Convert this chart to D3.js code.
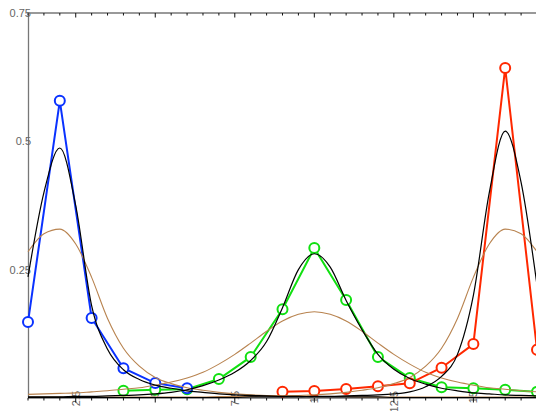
<!DOCTYPE html>
<html>
<head>
<meta charset="utf-8">
<script src="https://cdn.jsdelivr.net/npm/d3@7"></script>
<style>
body{margin:0;background:#fff;}
text{font-family:"Liberation Sans",Arial,sans-serif;}
</style>
</head>
<body>
<div id="chart"></div>
<script>
// measured series
var blueX = [1,2,3,4,5,6];
var blueY = [0.148,0.579,0.156,0.058,0.029,0.019];
var greenX = [4,5,6,7,8,9,10,11,12,13,14,15,16,17];
var greenY = [0.014,0.016,0.017,0.037,0.08,0.173,0.292,0.191,0.08,0.039,0.021,0.019,0.016,0.012];
var redX = [9,10,11,12,13,14,15,16,17];
var redY = [0.0123,0.0136,0.0175,0.023,0.0286,0.059,0.105,0.643,0.094];

// fitted curves, sampled every 0.5
var fitX = [1,1.5,2,2.5,3,3.5,4,4.5,5,5.5,6,6.5,7,7.5,8,8.5,9,9.5,10,10.5,11,11.5,12,12.5,13,13.5,14,14.5,15,15.5,16,16.5,17];
var blackA = [0.236,0.40,0.487,0.375,0.18,0.095,0.055,0.036,0.025,0.019,0.014,0.011,0.008,0.006,0.005,0.004,0.003,0.003,0.002,0.002,0.002,0.002,0.002,0.001,0.001,0.001,0.001,0.001,0.001,0.001,0.001,0.001,0.001];
var blackB = [0.002,0.002,0.002,0.003,0.003,0.004,0.005,0.006,0.008,0.011,0.016,0.024,0.035,0.05,0.073,0.11,0.176,0.25,0.281,0.255,0.19,0.133,0.085,0.056,0.038,0.027,0.019,0.014,0.01,0.008,0.006,0.005,0.004];
var blackC = [0.001,0.001,0.001,0.001,0.001,0.001,0.001,0.001,0.001,0.001,0.001,0.001,0.001,0.001,0.002,0.002,0.002,0.002,0.003,0.003,0.004,0.005,0.006,0.008,0.012,0.022,0.042,0.085,0.2,0.4,0.52,0.42,0.22];
var brownA = [0.285,0.32,0.329,0.30,0.235,0.155,0.097,0.062,0.04,0.028,0.02,0.015,0.011,0.008,0.006,0.005,0.004,0.004,0.003,0.003,0.003,0.002,0.002,0.002,0.002,0.002,0.002,0.002,0.002,0.002,0.002,0.002,0.002];
var brownB = [0.007,0.008,0.009,0.01,0.012,0.014,0.017,0.02,0.025,0.031,0.039,0.05,0.066,0.085,0.107,0.13,0.15,0.163,0.168,0.163,0.15,0.13,0.107,0.085,0.066,0.05,0.039,0.031,0.025,0.02,0.017,0.014,0.012];
var brownC = [0.002,0.002,0.002,0.002,0.002,0.002,0.002,0.002,0.002,0.002,0.002,0.002,0.003,0.003,0.003,0.004,0.004,0.005,0.006,0.008,0.011,0.015,0.02,0.028,0.04,0.062,0.097,0.155,0.235,0.30,0.329,0.32,0.285];

var xLabelTicks = [2.5,5,7.5,10,12.5,15];
var yLabelTicks = [0.25,0.5,0.75];

var W = 536, H = 411;
var plotL = 28, plotR = 537, plotT = 13, plotB = 398;

var svg = d3.select("#chart").append("svg")
    .attr("width", W)
    .attr("height", H);

var x = d3.scaleLinear().domain([1,17]).range([plotL,plotR]);
var y = d3.scaleLinear().domain([0,0.75]).range([plotB,plotT]);

var minorTicks = d3.range(1, 17.01, 0.5);

// bottom labels (rotated, partly hidden behind the frame)
svg.append("g").selectAll("text")
    .data(xLabelTicks)
    .enter().append("text")
    .attr("transform", function(d){ return "translate(" + (x(d)+4) + ",391) rotate(-90)"; })
    .attr("text-anchor", "end")
    .attr("font-size", 11)
    .attr("fill", "#666")
    .text(function(d){ return d; });

// y axis
var yAxis = svg.append("g")
    .attr("transform", "translate(" + plotL + ",0)")
    .call(d3.axisLeft(y).tickValues(yLabelTicks).tickFormat(function(d){ return String(d); })
        .tickSize(0).tickPadding(-3));
yAxis.select(".domain").attr("stroke", "#777").attr("stroke-width", 1.3);
yAxis.selectAll("text").attr("font-size", 11).attr("fill", "#666")
    .attr("font-family", "Liberation Sans, Arial, sans-serif");

// top and bottom frames with ticks
function frame(yy, dir){
    var g = svg.append("g");
    g.append("line")
        .attr("x1", plotL).attr("x2", W)
        .attr("y1", yy).attr("y2", yy)
        .attr("stroke", "#777").attr("stroke-width", 1.3);
    g.selectAll("line.tk")
        .data(minorTicks)
        .enter().append("line")
        .attr("class", "tk")
        .attr("x1", function(d){ return x(d); })
        .attr("x2", function(d){ return x(d); })
        .attr("y1", yy)
        .attr("y2", function(d){ return yy + dir * (d % 2.5 == 0 ? 4.5 : 2.5); })
        .attr("stroke", "#111").attr("stroke-width", 1);
}
frame(plotT, 1);
frame(plotB, 1);

var dataLine = d3.line()
    .x(function(d){ return x(d[0]); })
    .y(function(d){ return y(d[1]); });

function series(xs, ys, color){
    var pts = xs.map(function(v,i){ return [v, ys[i]]; });
    svg.append("path")
        .datum(pts)
        .attr("d", dataLine)
        .attr("fill", "none")
        .attr("stroke", color)
        .attr("stroke-width", 2);
    svg.append("g").selectAll("circle")
        .data(pts)
        .enter().append("circle")
        .attr("cx", function(d){ return x(d[0]); })
        .attr("cy", function(d){ return y(d[1]); })
        .attr("r", 5)
        .attr("fill", "#fff")
        .attr("stroke", color)
        .attr("stroke-width", 2);
}
series(greenX, greenY, "#11e011");
series(redX, redY, "#ff2800");
series(blueX, blueY, "#0a32ff");

var fitLine = d3.line()
    .curve(d3.curveMonotoneX)
    .x(function(d){ return x(d[0]); })
    .y(function(d){ return y(d[1]); });

function fit(ys, color, w){
    svg.append("path")
        .datum(fitX.map(function(v,i){ return [v, ys[i]]; }))
        .attr("d", fitLine)
        .attr("fill", "none")
        .attr("stroke", color)
        .attr("stroke-width", w);
}
fit(brownA, "#b8834f", 1.1);
fit(brownB, "#b8834f", 1.1);
fit(brownC, "#b8834f", 1.1);
fit(blackA, "#000", 1.2);
fit(blackB, "#000", 1.2);
fit(blackC, "#000", 1.2);
</script>
</body>
</html>
